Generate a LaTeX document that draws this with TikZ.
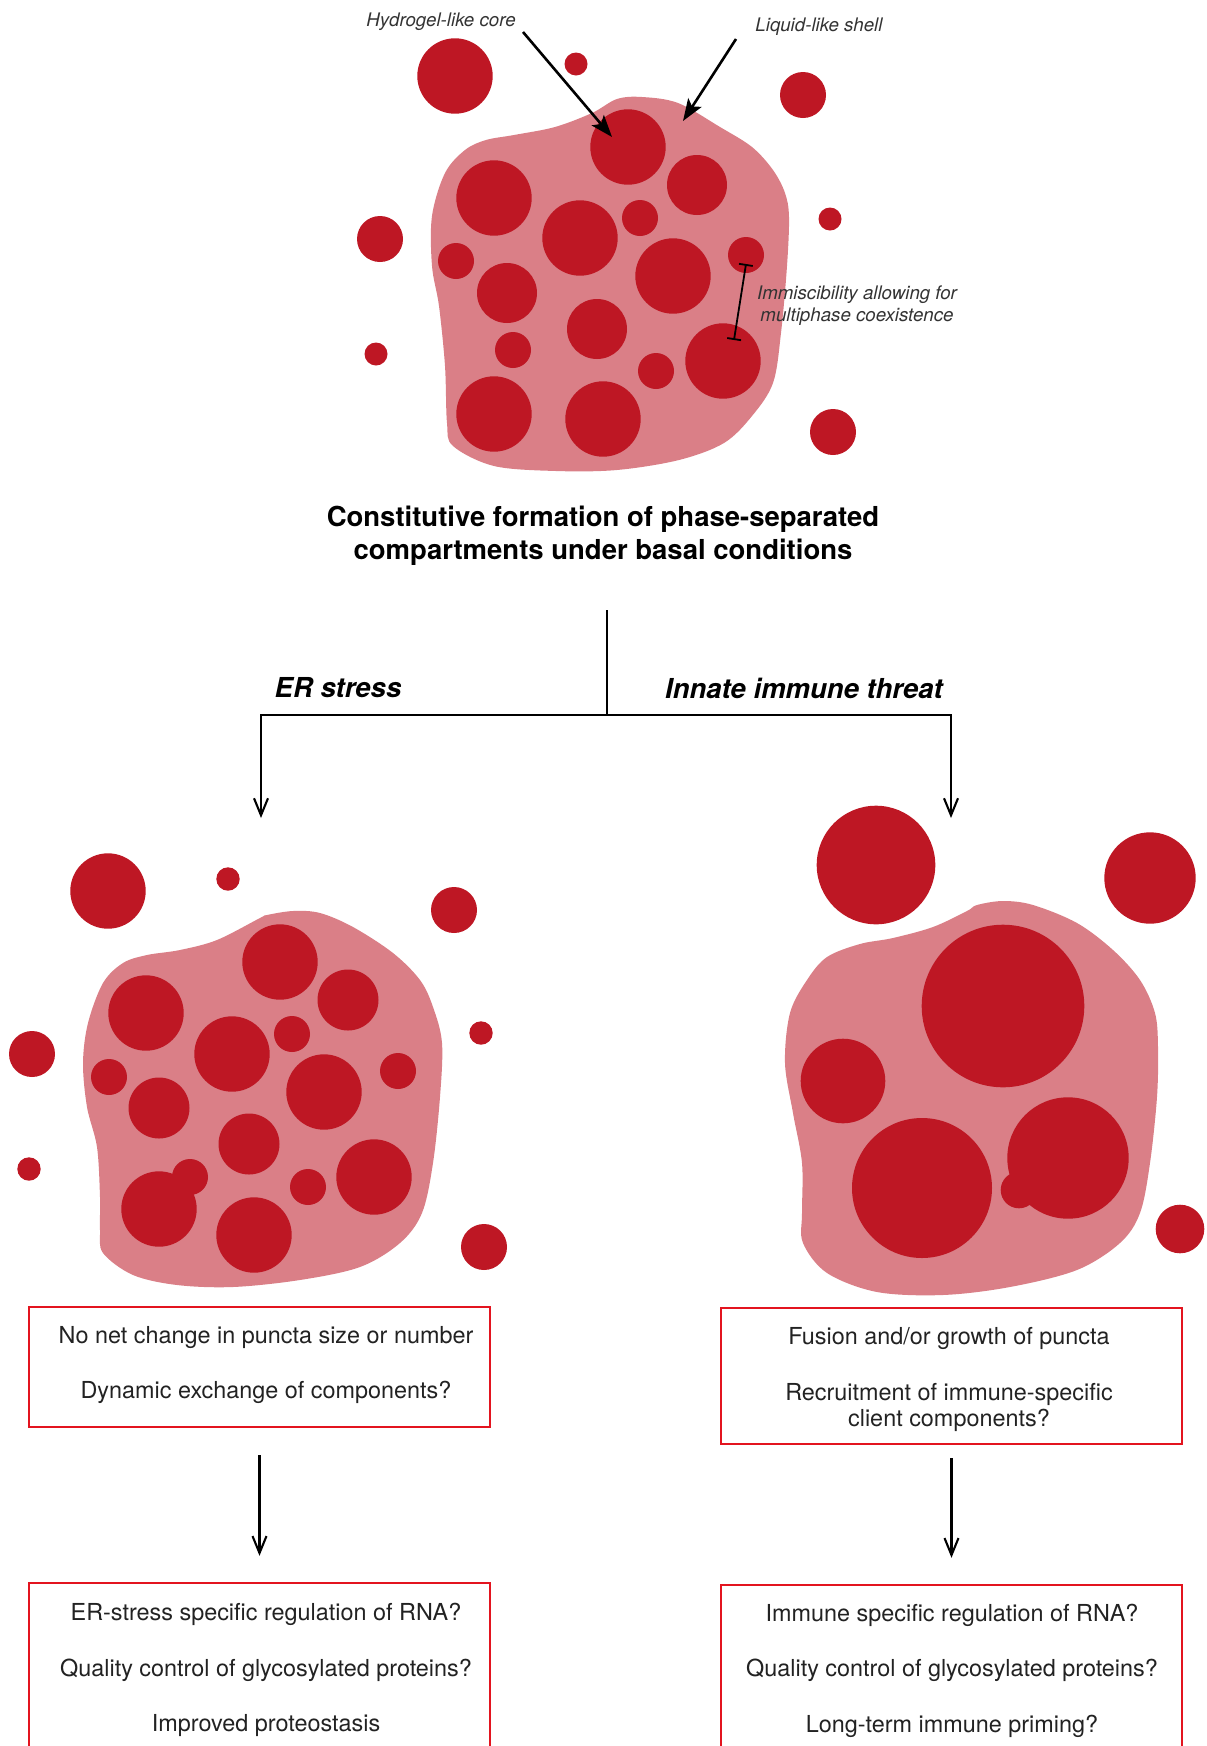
\documentclass[tikz,border=0pt]{standalone}
\usepackage{fontspec}
\setmainfont{TeX Gyre Heros}
\usetikzlibrary{arrows.meta}

\definecolor{puncta}{HTML}{BE1724}
\definecolor{shellpink}{HTML}{DA7F87}
\definecolor{boxred}{HTML}{E3141F}
\definecolor{ink}{HTML}{222222}
\definecolor{notegray}{HTML}{333333}

\tikzset{
  shell/.style={fill=shellpink, draw=none},
  drop/.style={fill=puncta, draw=none},
  stepbox/.style={draw=boxred, line width=2.4pt, minimum width=461pt, inner sep=0pt},
  bodytext/.style={font=\fontsize{23.4}{26}\selectfont, text=ink, align=center, inner sep=0pt},
  headtext/.style={font=\fontsize{27.5}{33}\selectfont\bfseries, text=black, align=center, inner sep=0pt},
  branchtext/.style={font=\fontsize{27.5}{33}\selectfont\bfseries\itshape, text=black, inner sep=0pt},
  note/.style={font=\fontsize{18.7}{22}\selectfont\itshape, text=notegray, align=center, inner sep=0pt},
  flow/.style={line width=2.1pt, -{Straight Barb[length=17pt,width=14pt,line width=2.1pt]}},
  pointer/.style={line width=2.6pt, -{Stealth[length=22pt,width=16pt,inset=5pt]}},
}

\begin{document}
\begin{tikzpicture}[x=1pt,y=-1pt]
\useasboundingbox (0,0) rectangle (1207,1746);

% ---------- basal condensate ----------
\fill[shell] plot[smooth cycle, tension=0.55] coordinates {
  (617,99) (642,97) (678,103) (720,127) (752,147) (773,170) (785,193) (789,217)
  (787,266) (781,333) (773,383) (752,416) (724,443) (679,460) (617,470) (556,471)
  (494,466) (453,446) (447,423) (445,366) (439,306) (432,266) (432,216) (445,173)
  (465,150) (486,140) (514,135) (555,127) (592,113)};
\foreach \x/\y/\r in {
  628/147/37.7, 697/185/30, 494/198/37.7, 580/238/37.7, 640/218/18, 456/261/18,
  507/293/30, 673/276/37.7, 746/255/18, 597/329/30, 513/350/18, 656/371/18,
  723/361/37.7, 494/414/37.7, 603/419/37.7,
  455/76/37.7, 576/64/11.5, 803/95/23, 380/239/23, 830/219/11.5, 376/354/11.5, 833/432/23}
  \fill[drop] (\x,\y) circle[radius=\r];

% annotations of the basal condensate
\node[note] (corelabel) at (441,22) {Hydrogel-like core};
\node[note] (shelllabel) at (819,27) {Liquid-like shell};
\node[note] (immisc) at (857,306) {Immiscibility allowing for\\multiphase coexistence};
\coordinate (coreTail) at (523,32);
\coordinate (coreHead) at (612,137);
\coordinate (shellTail) at (736,39);
\coordinate (shellHead) at (683,121);
\draw[pointer] (coreTail) -- (coreHead);
\draw[pointer] (shellTail) -- (shellHead);
\coordinate (gapTop) at (746,264);
\coordinate (gapBot) at (734,340);
\draw[line width=1.8pt, {Bar[width=14pt,line width=1.8pt]}-{Bar[width=14pt,line width=1.8pt]}] (gapTop) -- (gapBot);

% ---------- title and branching ----------
\node[headtext] (title) at (603,536) {Constitutive formation of phase-separated\\compartments under basal conditions};
\node[branchtext] (erlabel) at (338,688) {ER stress};
\node[branchtext] (immlabel) at (804,688) {Innate immune threat};

\coordinate (stem) at (607,610);
\coordinate (fork) at (607,715);
\coordinate (ltip) at (261,818);
\coordinate (rtip) at (951,818);
\draw[line width=2.1pt] (stem) -- (fork);
\draw[flow] (fork) -| (ltip);
\draw[flow] (fork) -| (rtip);

% ---------- ER stress condensate ----------
\fill[shell] plot[smooth cycle, tension=0.55] coordinates {
  (267,915) (293,911) (320,913) (353,927) (393,953) (420,980) (433,1007) (442,1043)
  (440,1097) (433,1163) (422,1213) (400,1243) (360,1267) (300,1280) (233,1287) (177,1285)
  (133,1275) (103,1253) (100,1230) (100,1197) (97,1147) (87,1107) (83,1063) (88,1023)
  (103,983) (123,963) (147,955) (180,950) (217,940) (260,918)};
\foreach \x/\y/\r in {
  280/962/37.7, 348/1000/30.5, 146/1013/37.7, 232/1054/37.7, 292/1034/18, 324/1092/37.7,
  398/1071/18, 109/1077/18, 159/1108/30.5, 249/1144/30.5, 374/1177/37.7, 308/1187/18,
  159/1209/37.7, 190/1177/18, 254/1235/37.7,
  108/891/37.7, 228/879/11.7, 454/910/23, 32/1054/23, 481/1033/11.7, 29/1169/11.7, 484/1247/23}
  \fill[drop] (\x,\y) circle[radius=\r];

% ---------- innate immune condensate ----------
\fill[shell] plot[smooth cycle, tension=0.55] coordinates {
  (977,905) (1003,901) (1033,905) (1077,923) (1113,950) (1140,980) (1155,1013) (1158,1047)
  (1157,1097) (1150,1163) (1140,1213) (1120,1243) (1077,1270) (1010,1287) (943,1295) (877,1292)
  (827,1273) (803,1243) (802,1213) (802,1163) (793,1113) (785,1063) (790,1013) (807,980)
  (827,957) (860,944) (893,938) (933,927) (967,911)};
\foreach \x/\y/\r in {
  1003/1006/81.3, 843/1081/42.3, 922/1188/70, 1068/1158/60.7, 1019/1190/18.3,
  876/865/59.3, 1150/878/45.7, 1180/1229/24.3}
  \fill[drop] (\x,\y) circle[radius=\r];

% ---------- outcome boxes ----------
\node[stepbox, minimum height=120pt] (lbox1) at (259.5,1367) {};
\node[bodytext] (lbox1text) at (266,1365) {No net change in puncta size or number\\[29pt]Dynamic exchange of components?};
\node[stepbox, minimum height=168pt] (lbox2) at (259.5,1667) {};
\node[bodytext] (lbox2text) at (266,1670) {ER-stress specific regulation of RNA?\\[29.5pt]Quality control of glycosylated proteins?\\[29.5pt]Improved proteostasis};
\draw[flow, shorten <=27pt, shorten >=26pt] (lbox1) -- (lbox2);

\node[stepbox, minimum height=136pt] (rbox1) at (951.5,1376) {};
\node[bodytext] (rbox1text) at (949,1379) {Fusion and/or growth of puncta\\[30pt]Recruitment of immune-specific\\client components?};
\node[stepbox, minimum height=166pt] (rbox2) at (951.5,1668) {};
\node[bodytext] (rbox2text) at (952,1670.5) {Immune specific regulation of RNA?\\[29.5pt]Quality control of glycosylated proteins?\\[29.5pt]Long-term immune priming?};
\draw[flow, shorten <=13pt, shorten >=26pt] (rbox1) -- (rbox2);

\end{tikzpicture}
\end{document}
